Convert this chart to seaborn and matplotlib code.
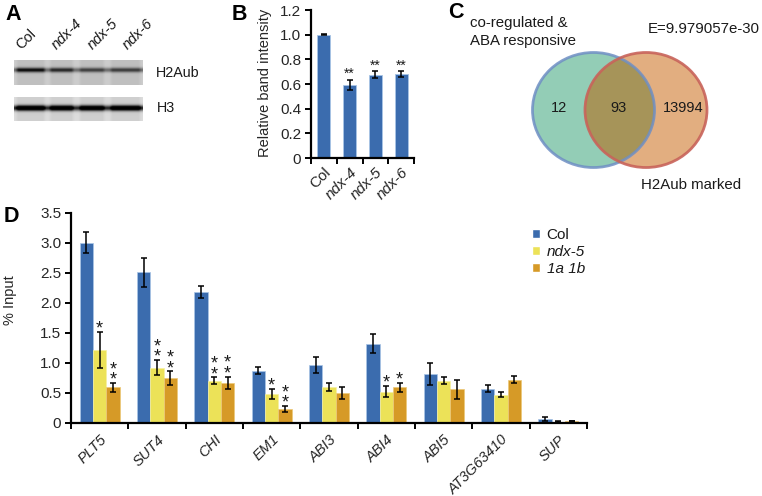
import numpy as np
import pandas as pd
import matplotlib
matplotlib.use("Agg")
import matplotlib.pyplot as plt
from matplotlib.patches import Ellipse
import seaborn as sns

# panel B
B_LINES = ["Col", "ndx-4", "ndx-5", "ndx-6"]
B_VALUES = [1.0, 0.595, 0.675, 0.68]
B_ERR = [0.003, 0.04, 0.03, 0.022]
B_STARS = ["", "**", "**", "**"]

# panel D
GENES = ["PLT5", "SUT4", "CHI", "EM1", "ABI3", "ABI4", "ABI5", "AT3G63410", "SUP"]
SERIES = ["Col", "ndx-5", "1a 1b"]
COL_VALUES = [3.0, 2.51, 2.18, 0.87, 0.96, 1.32, 0.81, 0.57, 0.06]
COL_ERR = [0.175, 0.24, 0.10, 0.065, 0.13, 0.16, 0.185, 0.06, 0.03]
NDX5_VALUES = [1.21, 0.92, 0.70, 0.48, 0.59, 0.52, 0.70, 0.47, 0.02]
NDX5_ERR = [0.30, 0.12, 0.055, 0.09, 0.065, 0.095, 0.06, 0.04, 0.005]
AB_VALUES = [0.59, 0.74, 0.67, 0.23, 0.50, 0.59, 0.56, 0.72, 0.03]
AB_ERR = [0.07, 0.115, 0.10, 0.045, 0.10, 0.07, 0.16, 0.06, 0.005]
NDX5_STARS = [1, 2, 2, 1, 0, 1, 0, 0, 0]
AB_STARS = [2, 2, 2, 2, 0, 1, 0, 0, 0]

# panel A band strength per lane
H2AUB_BANDS = [0.50, 0.34, 0.20, 0.22]
H3_BANDS = [0.62, 0.60, 0.58, 0.60]

# panel C
VENN_COUNTS = ["12", "93", "13994"]

BLUE = "#3b6cae"
YELLOW = "#ece258"
ORANGE = "#d69a27"
W, H = 762, 496

sns.set_theme(style="ticks")
plt.rcParams["font.family"] = ["Liberation Sans", "DejaVu Sans"]
plt.rcParams["text.color"] = "#1a1a1a"

fig = plt.figure(figsize=(W / 100, H / 100), dpi=100, facecolor="white")


def axes_px(x0, y0, x1, y1):
    return fig.add_axes([x0 / W, 1 - y1 / H, (x1 - x0) / W, (y1 - y0) / H])


def style_axis(ax, ymax, yticks, ylabels):
    ax.set_ylim(0, ymax)
    ax.set_yticks(yticks, ylabels)
    ax.set_xlabel("")
    ax.set_ylabel("")
    sns.despine(ax=ax)
    for s in ["left", "bottom"]:
        ax.spines[s].set_linewidth(1.6)
        ax.spines[s].set_color("black")
    ax.tick_params(axis="y", length=4, width=1.4, labelsize=11, pad=3, color="black")
    ax.patch.set_alpha(0)


# overlay in pixel coordinates for the blot, venn and free text
ov = fig.add_axes([0, 0, 1, 1])
ov.axis("off")


def blot(bands, x0, y0, x1, y1, bg, band_y, sigma):
    nx, ny = (x1 - x0) * 2, (y1 - y0) * 2
    xs = (np.arange(nx) + 0.5) / nx
    ys = (np.arange(ny) + 0.5) / ny
    img = np.full((ny, nx), bg)
    lanes = [(0.01, 0.25), (0.27, 0.47), (0.50, 0.71), (0.74, 0.99)]
    for s, (a, b) in zip(bands, lanes):
        mask = np.clip((xs - a) * 40, 0, 1) * np.clip((b - xs) * 40, 0, 1)
        img -= s * np.outer(np.exp(-((ys - band_y) / sigma) ** 2), 0.3 + 0.7 * mask)
        img -= 0.05 * np.outer(np.ones(ny), mask)
    ov.imshow(np.clip(img, 0, 1), cmap="gray", vmin=0, vmax=1, aspect="auto",
              extent=(x0, x1, y1, y0), interpolation="bilinear")


blot(H2AUB_BANDS, 14, 60, 143, 85, 0.80, 0.40, 0.09)
blot(H3_BANDS, 14, 97, 143, 121, 0.86, 0.46, 0.11)

# venn
left = dict(xy=(593.5, 110), width=122, height=115)
right = dict(xy=(646, 110), width=122, height=115)
ov.add_patch(Ellipse(**left, fc="#93cdb6", ec="none"))
ov.add_patch(Ellipse(**right, fc="#e2ae80", ec="none"))
clip = Ellipse(**right, transform=ov.transData)
both = Ellipse(**left, fc="#a69459", ec="none")
ov.add_patch(both)
both.set_clip_path(clip)
ov.add_patch(Ellipse(**left, fc="none", ec="#6f8fc4", lw=2.0, alpha=0.85))
ov.add_patch(Ellipse(**right, fc="none", ec="#c8635a", lw=2.0, alpha=0.9))

ov.set_xlim(0, W)
ov.set_ylim(H, 0)

for x, count in zip([559, 618.5, 683.5], VENN_COUNTS):
    ov.text(x, 107.5, count, ha="center", va="center", fontsize=10.5)

ov.text(470, 23, "co-regulated &", ha="left", va="center", fontsize=10.8)
ov.text(470, 41, "ABA responsive", ha="left", va="center", fontsize=10.8)
ov.text(648, 29, "E=9.979057e-30", ha="left", va="center", fontsize=10.8)
ov.text(641, 185, "H2Aub marked", ha="left", va="center", fontsize=10.8)

# panel letters
for letter, x, y in [("A", 5, 14), ("B", 232, 14), ("C", 448, 13), ("D", 4, 216)]:
    ov.text(x, y, letter, fontsize=15.5, fontweight="bold", color="black", ha="left", va="center")

# blot labels
for label, x, style in zip(B_LINES, [18, 54, 90, 125], ["normal", "italic", "italic", "italic"]):
    ov.text(x, 47, label, rotation=45, ha="left", va="center", rotation_mode="anchor",
            style=style, fontsize=10.5)
ov.text(156, 73, "H2Aub", va="center", fontsize=10.3)
ov.text(157, 108, "H3", va="center", fontsize=10.3)

# panel B
axb = axes_px(311, 10, 414, 158)
sns.barplot(x=B_LINES, y=B_VALUES, ax=axb, color=BLUE, saturation=1, width=0.5,
            edgecolor="#a9c5e6", linewidth=0.6, errorbar=None)
centers = [p.get_x() + p.get_width() / 2 for p in axb.patches]
axb.errorbar(centers, B_VALUES, yerr=B_ERR, fmt="none", ecolor="black", elinewidth=1.1,
             capsize=2.2, capthick=1.1)
for x, v, e, s in zip(centers, B_VALUES, B_ERR, B_STARS):
    if s:
        axb.annotate(s, (x, v + e), xytext=(0, -1), textcoords="offset points",
                     ha="center", va="bottom", fontsize=10)
style_axis(axb, 1.2, [0, 0.2, 0.4, 0.6, 0.8, 1.0, 1.2], ["0", "0.2", "0.4", "0.6", "0.8", "1.0", "1.2"])
axb.set_xlim(-0.5, 3.5)
axb.set_xticks(np.arange(-0.5, 4), minor=True)
axb.tick_params(axis="x", which="minor", length=4, width=1.4, color="black")
axb.tick_params(axis="x", which="major", length=0, pad=5)
axb.set_xticks(range(4), B_LINES, rotation=45, ha="right", rotation_mode="anchor", fontsize=11)
for t in axb.get_xticklabels()[1:]:
    t.set_style("italic")
axb.set_ylabel("Relative band intensity", fontsize=10.5)
axb.yaxis.set_label_coords(-39 / 103, 0.51)

# panel D
axd = axes_px(71, 213, 587, 422.7)
df = pd.DataFrame({
    "gene": GENES * 3,
    "line": np.repeat(SERIES, len(GENES)),
    "value": COL_VALUES + NDX5_VALUES + AB_VALUES,
})
sns.barplot(data=df, x="gene", y="value", hue="line", ax=axd, palette=[BLUE, YELLOW, ORANGE],
            saturation=1, width=0.7, gap=0, errorbar=None, legend=False)
edge = ["#a9c5e6", "#f6f0a0", "#ecc878"]
for cont, vals, errs, ec, stars in zip(axd.containers, [COL_VALUES, NDX5_VALUES, AB_VALUES],
                                       [COL_ERR, NDX5_ERR, AB_ERR], edge,
                                       [[0] * 9, NDX5_STARS, AB_STARS]):
    xs = [p.get_x() + p.get_width() / 2 for p in cont]
    for p in cont:
        p.set_edgecolor(ec)
        p.set_linewidth(0.5)
    axd.errorbar(xs, vals, yerr=errs, fmt="none", ecolor="black", elinewidth=1.1,
                 capsize=2.4, capthick=1.1)
    for x, v, e, n in zip(xs, vals, errs, stars):
        if n:
            axd.annotate("\n".join("*" * n), (x, v + e), xytext=(0, -4), textcoords="offset points",
                         ha="center", va="bottom", fontsize=13, linespacing=0.5)
style_axis(axd, 3.5, [0, 0.5, 1, 1.5, 2, 2.5, 3, 3.5], ["0", "0.5", "1.0", "1.5", "2.0", "2.5", "3.0", "3.5"])
axd.set_xlim(-0.5, 8.5)
axd.set_xticks(np.arange(-0.5, 9), minor=True)
axd.tick_params(axis="x", which="minor", length=4, width=1.4, color="black")
axd.tick_params(axis="x", which="major", length=0, pad=7)
axd.set_xticks(range(9), GENES, rotation=45, ha="right", rotation_mode="anchor", fontsize=10.5, style="italic")
axd.set_ylabel("% Input", fontsize=10.5)
axd.yaxis.set_label_coords(-54 / 516, 0.585)

handles = [plt.Rectangle((0, 0), 1, 1, fc=c) for c in [BLUE, YELLOW, ORANGE]]
leg = fig.legend(handles, SERIES, loc="upper left", bbox_to_anchor=(529 / W, 1 - 225 / H),
                 frameon=False, fontsize=11, handlelength=0.55, handleheight=0.55,
                 labelspacing=0.2, handletextpad=0.4, borderpad=0.2, borderaxespad=0)
for t in leg.get_texts()[1:]:
    t.set_style("italic")

fig.savefig("out.png", dpi=100, facecolor="white")
